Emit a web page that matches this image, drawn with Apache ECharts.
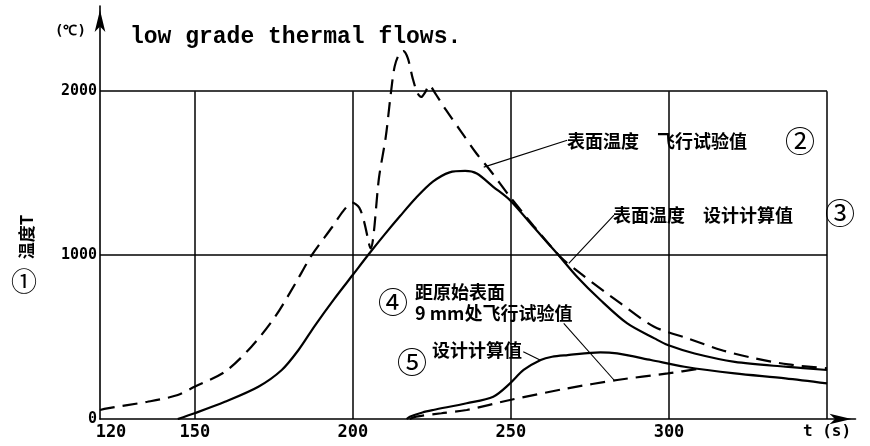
<!DOCTYPE html>
<html><head><meta charset="utf-8">
<script src="https://cdn.jsdelivr.net/npm/echarts@6/dist/echarts.min.js"></script>
<style>html,body{margin:0;padding:0;background:#fff}#c{width:870px;height:446px}</style>
</head><body><div id="c"></div>
<script>
// ---- data ----
const xLabelValues = [120, 150, 200, 250, 300, 350];
const yLabelValues = [0, 1000, 2000];
const gridXValues = [150, 200, 250, 300, 350];
const gridYValues = [1000, 2000];

// (2) surface temperature, flight test (dashed)
const surfTestTime = [120,122.3,135,144.6,149.9,159.5,167.9,175.4,181.8,187,193.4,197,199.8,202,203.6,205.6,208.3,210.4,212,213.2,214.6,216,217.4,218.9,220.4,221.6,222.9,224.2,225.8,229.5,234,239.1,243.4,249.7,257.1,265.6,272,284.7,295.3,305.9,316.5,327.1,337.7,350];
const surfTestTemp = [55,65,105,146,197,288,441,624,827,1000,1170,1270,1320,1290,1200,1041,1478,1721,1986,2150,2225,2245,2200,2080,1990,1965,1995,2037,1995,1884,1760,1620,1518,1356,1180,990,888,705,563,492,421,370,333,309];

// (3) surface temperature, design calculation (solid)
const surfCalcTime = [144.6,149.9,159.5,170.1,177.5,182.8,188,194,200,205,210,215,220,225.3,230.6,235.5,239.2,244.4,249.7,257.1,264.6,270.9,278.3,286.8,295.4,299.6,308.1,320.8,336.8,350];
const surfCalcTemp = [0,35,105,197,299,421,570,730,880,1005,1125,1240,1350,1448,1505,1514,1498,1417,1335,1173,1010,868,726,583,492,451,400,349,319,299];

// (4) 9 mm below original surface, flight test (dashed)
const depthTestTime = [218,220,228,236,249.7,267.9,283.6,299.6,310.2];
const depthTestTemp = [0,14,35,55,116,187,238,278,309];

// (5) 9 mm below original surface, design calculation (solid)
const depthCalcTime = [217,218,222,225.4,236,244.4,249.7,254,259.4,263,267.9,278.3,283.6,294.3,304.9,320.8,336.8,350];
const depthCalcTemp = [0,14,40,55,96,136,217,299,360,380,390,407,400,360,319,278,248,217];

// leader lines [t1,T1,t2,T2]
const leaderLines = [
  [267.8,1701,241.4,1537],
  [282.6,1244,268.3,949],
  [266.7,583,282.6,238],
  [253.9,411,259.2,360]
];

const zip = (a,b) => a.map((v,i)=>[v,b[i]]);

const gridLines = [];
gridXValues.forEach(v => gridLines.push([{coord:[v,0]},{coord:[v,2000]}]));
gridYValues.forEach(v => gridLines.push([{coord:[120,v]},{coord:[350,v]}]));
const leaderMark = leaderLines.map(l => [{coord:[l[0],l[1]]},{coord:[l[2],l[3]]}]);

const black = '#000';
const cjk = '"Noto Sans CJK SC", sans-serif';
const lineBase = {type:'line', smooth:0.3, showSymbol:false, symbol:'none', silent:true, animation:false};

const chart = echarts.init(document.getElementById('c'), null, {renderer:'canvas'});
chart.setOption({
  animation:false,
  backgroundColor:'#fff',
  grid:{left:100, top:6, width:755.5, height:413},
  xAxis:{
    type:'value', min:120, max:359,
    axisLine:{show:true, symbol:['none','arrow'], symbolSize:[8,22], symbolOffset:[0,-4], lineStyle:{color:black,width:1.6}},
    axisTick:{show:false}, splitLine:{show:false},
    axisLabel:{customValues:xLabelValues, color:black, fontFamily:'DejaVu Sans Mono', fontWeight:'bold', fontSize:17, margin:5,
      formatter:v => v===350 ? '{t|t (s)}' : (v===120 ? '{a|120}' : String(v)),
      rich:{t:{fontFamily:'DejaVu Sans Mono', fontSize:16, color:black},
            a:{fontFamily:'DejaVu Sans Mono', fontWeight:'bold', fontSize:17, color:black, padding:[0,0,0,22]}}}
  },
  yAxis:{
    type:'value', min:0, max:2520,
    axisLine:{show:true, symbol:['none','arrow'], symbolSize:[8,22], symbolOffset:[0,-4], lineStyle:{color:black,width:1.6}},
    axisTick:{show:false}, splitLine:{show:false},
    axisLabel:{customValues:yLabelValues, color:black, fontFamily:'DejaVu Sans Mono', fontWeight:'bold', fontSize:15, margin:3,
      formatter:v => String(v)}
  },
  series:[
    Object.assign({}, lineBase, {name:'surfTest', data:zip(surfTestTime,surfTestTemp), lineStyle:{color:black,width:2.2,type:[15,8]}}),
    Object.assign({}, lineBase, {name:'surfCalc', data:zip(surfCalcTime,surfCalcTemp), lineStyle:{color:black,width:2.2},
      markLine:{silent:true, animation:false, symbol:['none','none'], label:{show:false}, lineStyle:{color:black,width:1.5,type:'solid'}, data:gridLines}}),
    Object.assign({}, lineBase, {name:'depthTest', data:zip(depthTestTime,depthTestTemp), lineStyle:{color:black,width:2.2,type:[15,8]},
      markLine:{silent:true, animation:false, symbol:['none','none'], label:{show:false}, lineStyle:{color:black,width:1.1,type:'solid'}, data:leaderMark}}),
    Object.assign({}, lineBase, {name:'depthCalc', data:zip(depthCalcTime,depthCalcTemp), lineStyle:{color:black,width:2.2}})
  ],
  graphic:[
    {type:'text', left:130, top:26, style:{text:'low grade thermal flows.', font:'bold 23px "Liberation Mono", monospace', fill:black}},
    {type:'text', left:55, top:24, style:{text:'(℃)', font:'bold 14px "DejaVu Sans Mono", monospace', fill:black}},
    {type:'text', x:27, y:237, rotation:Math.PI/2, style:{text:'温度T', font:'bold 17px '+cjk, fill:black, align:'center', verticalAlign:'middle'}},
    {type:'text', x:24, y:281, style:{text:'①', font:'26px '+cjk, fill:black, align:'center', verticalAlign:'middle'}},
    {type:'text', x:567, y:141, style:{text:'表面温度　飞行试验值', font:'bold 18px '+cjk, fill:black, verticalAlign:'middle'}},
    {type:'text', x:800, y:141, style:{text:'②', font:'30px '+cjk, fill:black, align:'center', verticalAlign:'middle'}},
    {type:'text', x:613, y:215, style:{text:'表面温度　设计计算值', font:'bold 18px '+cjk, fill:black, verticalAlign:'middle'}},
    {type:'text', x:840, y:213, style:{text:'③', font:'30px '+cjk, fill:black, align:'center', verticalAlign:'middle'}},
    {type:'text', x:415, y:292, style:{text:'距原始表面', font:'bold 18px '+cjk, fill:black, verticalAlign:'middle'}},
    {type:'text', x:415, y:313, style:{text:'9 mm处飞行试验值', font:'bold 18px '+cjk, fill:black, verticalAlign:'middle'}},
    {type:'text', x:393, y:302, style:{text:'④', font:'30px '+cjk, fill:black, align:'center', verticalAlign:'middle'}},
    {type:'text', x:432, y:350, style:{text:'设计计算值', font:'bold 18px '+cjk, fill:black, verticalAlign:'middle'}},
    {type:'text', x:412, y:362, style:{text:'⑤', font:'30px '+cjk, fill:black, align:'center', verticalAlign:'middle'}}
  ]
});
</script></body></html>
